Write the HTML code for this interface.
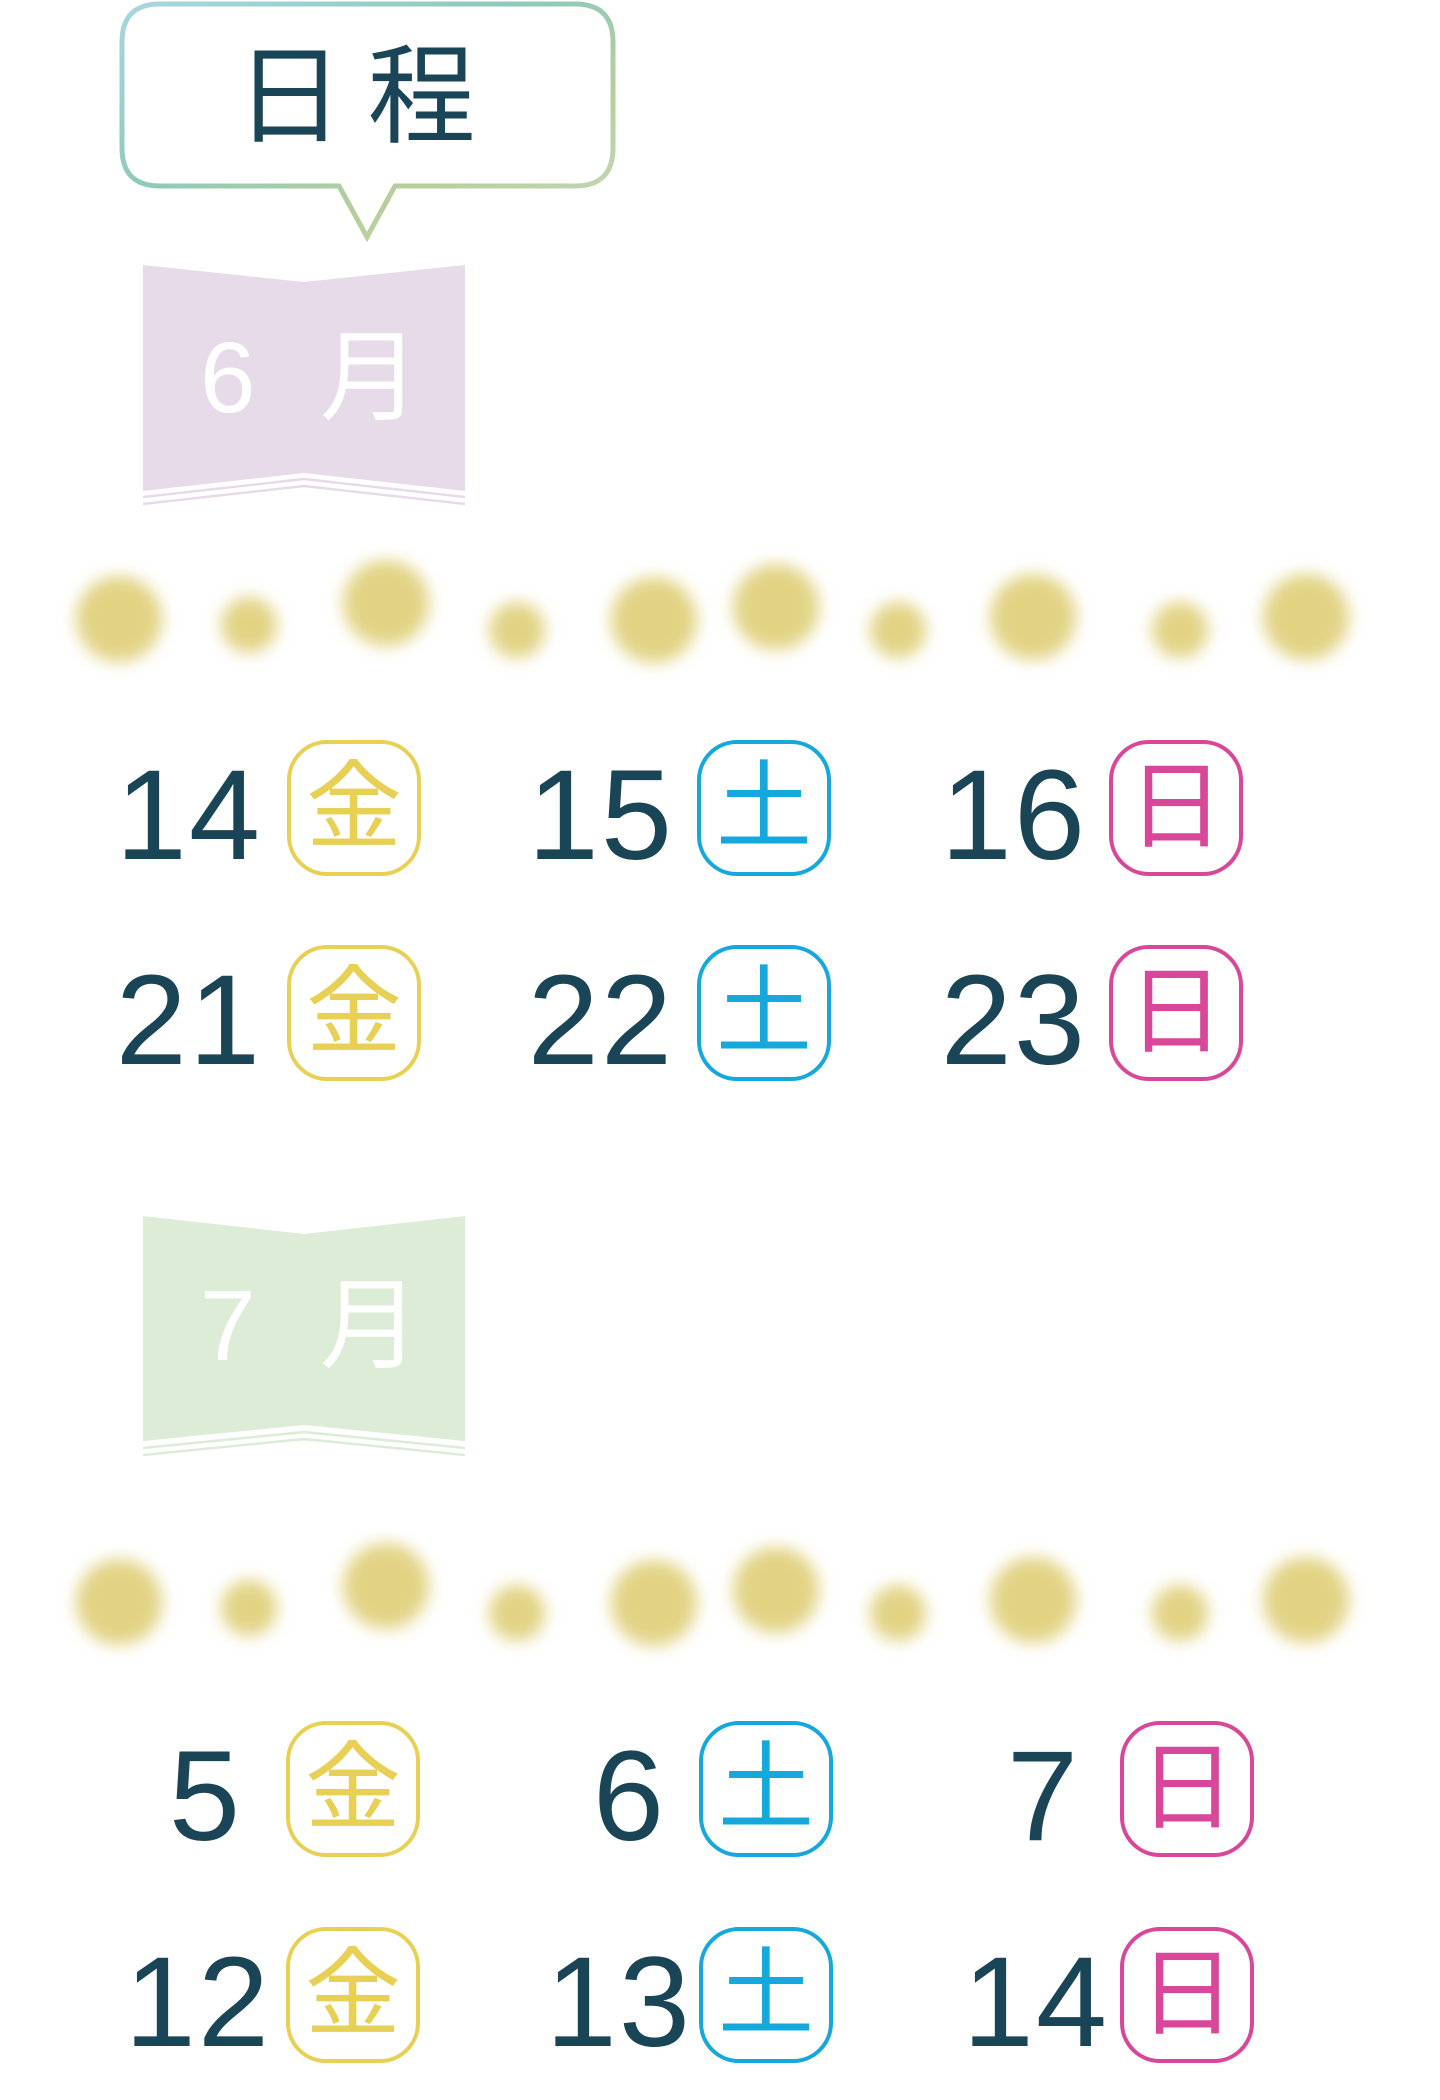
<!DOCTYPE html>
<html><head><meta charset="utf-8"><style>
html,body{margin:0;padding:0;background:#fff}
body{width:1440px;height:2100px;position:relative;overflow:hidden;font-family:"Liberation Sans","Noto Sans CJK JP",sans-serif}
.a{position:absolute}
.num{position:absolute;color:#1a4556;font-size:128px;line-height:135px;height:135px;text-align:right;width:300px;letter-spacing:2px;margin-top:8px}
.b{position:absolute;width:126px;height:128px;border:4px solid;border-radius:40px;box-sizing:content-box;text-align:center;font-size:96px;line-height:128px;font-weight:normal}
.y{border-color:#e8d055;color:#e8d055}
.c{border-color:#14a8dc;color:#14a8dc}
.p{border-color:#d8479a;color:#d8479a}
.d{position:absolute;border-radius:50%;background:#e2d384;filter:blur(8px)}
.m{position:absolute;color:#fff;font-size:100px;line-height:120px;font-family:"Liberation Sans","Noto Sans CJK JP",sans-serif}
</style></head><body>

<svg class="a" style="left:0;top:0" width="1440" height="520">
<defs><linearGradient id="g" x1="0" y1="0" x2="1" y2="1">
<stop offset="0" stop-color="#a9d6e0"/><stop offset=".4" stop-color="#8ecabb"/><stop offset=".7" stop-color="#b7cf9a"/><stop offset="1" stop-color="#c6d9c0"/></linearGradient></defs>
<path d="M160 4 H575 Q613 4 613 42 V148 Q613 186 575 186 H395 L367 237 L339 186 H160 Q122 186 122 148 V42 Q122 4 160 4 Z" fill="#fff" stroke="url(#g)" stroke-width="5"/>
<polygon points="143,265 304,282 465,265 465,491 304,473 143,491" fill="#e7dbea"/>
<polyline points="143,497 304,479 465,497" fill="none" stroke="#e7dbea" stroke-width="2.5"/>
<polyline points="143,504 304,486 465,504" fill="none" stroke="#e7dbea" stroke-width="2.5"/>
</svg>
<div class="a" style="left:122px;top:32px;width:491px;text-align:center;font-size:108px;line-height:130px;color:#1a4556;font-weight:normal;letter-spacing:24px">日程</div>
<div class="m" style="left:200px;top:318px">6</div>
<div class="m" style="left:320px;top:318px">月</div>

<div class="d" style="left:76px;top:576px;width:86px;height:86px"></div>
<div class="d" style="left:221px;top:597px;width:56px;height:56px"></div>
<div class="d" style="left:343px;top:560px;width:86px;height:86px"></div>
<div class="d" style="left:489px;top:602px;width:56px;height:56px"></div>
<div class="d" style="left:611px;top:577px;width:86px;height:86px"></div>
<div class="d" style="left:733px;top:564px;width:86px;height:86px"></div>
<div class="d" style="left:870px;top:602px;width:56px;height:56px"></div>
<div class="d" style="left:990px;top:574px;width:86px;height:86px"></div>
<div class="d" style="left:1152px;top:602px;width:56px;height:56px"></div>
<div class="d" style="left:1263px;top:574px;width:86px;height:86px"></div>

<div class="num" style="left:-38px;top:740px">14</div><div class="b y" style="left:287px;top:740px">金</div>
<div class="num" style="left:374px;top:740px">15</div><div class="b c" style="left:697px;top:740px">土</div>
<div class="num" style="left:787px;top:740px">16</div><div class="b p" style="left:1109px;top:740px">日</div>
<div class="num" style="left:-38px;top:945px">21</div><div class="b y" style="left:287px;top:945px">金</div>
<div class="num" style="left:374px;top:945px">22</div><div class="b c" style="left:697px;top:945px">土</div>
<div class="num" style="left:787px;top:945px">23</div><div class="b p" style="left:1109px;top:945px">日</div>

<svg class="a" style="left:0;top:1200px" width="600" height="270">
<polygon points="143,16 304,34 465,16 465,241 304,225 143,241" fill="#dcecd6"/>
<polyline points="143,248 304,232 465,248" fill="none" stroke="#dcecd6" stroke-width="2.5"/>
<polyline points="143,255 304,239 465,255" fill="none" stroke="#dcecd6" stroke-width="2.5"/>
</svg>
<div class="m" style="left:200px;top:1266px">7</div>
<div class="m" style="left:320px;top:1266px">月</div>

<div class="d" style="left:76px;top:1559px;width:86px;height:86px"></div>
<div class="d" style="left:221px;top:1580px;width:56px;height:56px"></div>
<div class="d" style="left:343px;top:1543px;width:86px;height:86px"></div>
<div class="d" style="left:489px;top:1585px;width:56px;height:56px"></div>
<div class="d" style="left:611px;top:1560px;width:86px;height:86px"></div>
<div class="d" style="left:733px;top:1547px;width:86px;height:86px"></div>
<div class="d" style="left:870px;top:1585px;width:56px;height:56px"></div>
<div class="d" style="left:990px;top:1557px;width:86px;height:86px"></div>
<div class="d" style="left:1152px;top:1585px;width:56px;height:56px"></div>
<div class="d" style="left:1263px;top:1557px;width:86px;height:86px"></div>

<div class="num" style="left:-58px;top:1721px">5</div><div class="b y" style="left:286px;top:1721px">金</div>
<div class="num" style="left:366px;top:1721px">6</div><div class="b c" style="left:699px;top:1721px">土</div>
<div class="num" style="left:780px;top:1721px">7</div><div class="b p" style="left:1120px;top:1721px">日</div>
<div class="num" style="left:-29px;top:1927px">12</div><div class="b y" style="left:286px;top:1927px">金</div>
<div class="num" style="left:392px;top:1927px">13</div><div class="b c" style="left:699px;top:1927px">土</div>
<div class="num" style="left:809px;top:1927px">14</div><div class="b p" style="left:1120px;top:1927px">日</div>
</body></html>
